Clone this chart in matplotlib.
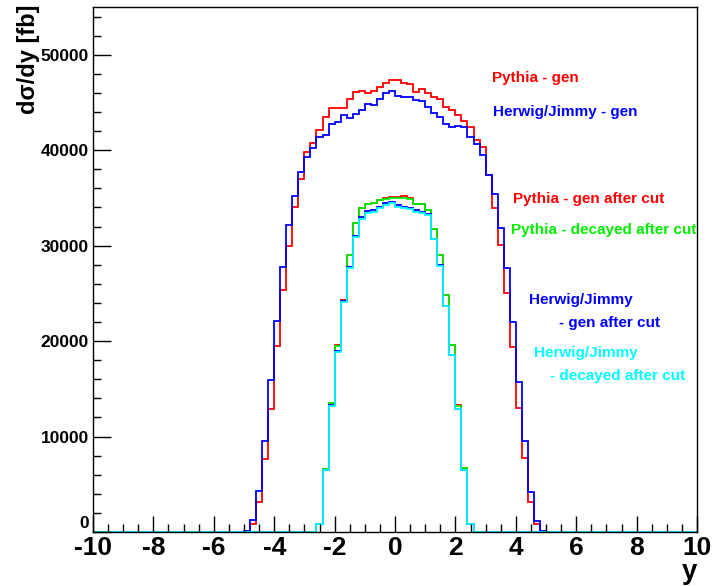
import numpy as np
import matplotlib
matplotlib.use("Agg")
import matplotlib.pyplot as plt
from matplotlib.ticker import MultipleLocator, FuncFormatter

plt.rcParams['font.family'] = ['Liberation Sans', 'DejaVu Sans']
plt.rcParams['font.weight'] = 'bold'
plt.rcParams['axes.unicode_minus'] = False

# 100 bins of width 0.2 between -10 and 10
edges = np.linspace(-10, 10, 101)

# generator level, bins from -5.0 to 5.0
gen_start = -5.0
pythia_gen = [50, 800, 3110, 7650, 12860, 19530, 25360, 29970, 34100, 36960,
              39860, 40730, 42130, 43460, 44400, 44470, 44400, 45340, 46070, 46250,
              45970, 46250, 46670, 47020, 47300, 47300, 47090, 46950, 46080, 46390,
              45970, 45550, 45340, 44570, 44230, 43700, 43070, 42480, 41080, 40310,
              37410, 33990, 30080, 25010, 19420, 12960, 7720, 3110, 840, 50]
herwig_gen = [140, 1225, 4300, 9570, 15930, 22150, 27800, 32170, 35250, 37730,
              39270, 40210, 41430, 41600, 42760, 43000, 43700, 43420, 43800, 44230,
              44820, 44750, 45340, 45970, 46250, 45700, 45620, 45550, 45270, 45100,
              44570, 43880, 43520, 42730, 42480, 42580, 42410, 41430, 40660, 39510,
              37410, 35390, 31820, 27700, 21980, 15750, 9540, 4230, 1150, 100]

# after cut, bins from -2.6 to 2.6
cut_start = -2.6
pythia_gen_cut = [850, 6620, 13500, 19560, 24260, 29050, 32380, 33950, 34370, 34480,
                  34820, 34950, 35080, 35120, 35180, 34960, 34360, 34360, 33770, 31780,
                  29050, 24860, 19620, 13280, 6680, 850]
pythia_dec_cut = [840, 6600, 13480, 19530, 24240, 29030, 32350, 33920, 34340, 34450,
                  34790, 34900, 35040, 35040, 35040, 34900, 34340, 34340, 33750, 31750,
                  29030, 24840, 19600, 13240, 6670, 840]
herwig_gen_cut = [810, 6520, 13260, 18950, 24150, 27780, 30980, 32950, 33580, 33750,
                  34080, 34420, 34600, 34250, 34050, 33950, 33700, 33520, 33300, 30720,
                  27920, 23720, 18580, 12920, 6520, 810]
herwig_dec_cut = [800, 6500, 13240, 18900, 24100, 27700, 30880, 32800, 33400, 33570,
                  33920, 34270, 34450, 34100, 33920, 33820, 33570, 33400, 33220, 30670,
                  27880, 23680, 18550, 12890, 6500, 800]


def full(vals, start):
    h = np.zeros(100)
    i0 = int(round((start + 10) / 0.2))
    h[i0:i0 + len(vals)] = vals
    return h


fig = plt.figure(figsize=(7.15, 5.86), dpi=100)
ax = fig.add_axes([93 / 715, 54 / 586, 604 / 715, 525 / 586])

hists = [
    (pythia_gen, gen_start, '#ff0000'),
    (herwig_gen, gen_start, '#0000ff'),
    (pythia_gen_cut, cut_start, '#ff0000'),
    (pythia_dec_cut, cut_start, '#00ee00'),
    (herwig_gen_cut, cut_start, '#0000ff'),
    (herwig_dec_cut, cut_start, '#00ffff'),
]
for vals, start, col in hists:
    ax.stairs(full(vals, start), edges, color=col, lw=1.3, clip_on=False)

ax.set_xlim(-10, 10)
ax.set_ylim(0, 55000)

ax.xaxis.set_major_locator(MultipleLocator(2))
ax.xaxis.set_minor_locator(MultipleLocator(0.5))
ax.yaxis.set_major_locator(MultipleLocator(10000))
ax.yaxis.set_minor_locator(MultipleLocator(2000))
# the "0" of the y axis is drawn by hand a bit higher, above the -10
ax.yaxis.set_major_formatter(FuncFormatter(lambda v, p: '' if v == 0 else '%d' % v))
ax.tick_params(axis='x', which='major', direction='in', length=11.5, width=1,
               labelsize=19, pad=3, top=False)
ax.tick_params(axis='x', which='minor', direction='in', length=5.8, width=1, top=False)
ax.tick_params(axis='y', which='major', direction='in', length=13, width=1,
               labelsize=12.5, pad=3, right=False)
ax.tick_params(axis='y', which='minor', direction='in', length=6, width=1, right=False)
for lab in ax.get_xticklabels() + ax.get_yticklabels():
    lab.set_fontweight('bold')
for s in ax.spines.values():
    s.set_linewidth(1)

W, H = 715, 586
fig.text(84 / W, 1 - 524 / H, '0', ha='center', va='center', fontsize=12.5,
         fontweight='bold')
fig.text(28 / W, 1 - 4 / H, 'dσ/dy [fb]', rotation=90, ha='center', va='top',
         fontsize=17, fontweight='bold')
fig.text(690 / W, 1 - 572 / H, 'y', ha='center', va='center', fontsize=20,
         fontweight='bold')

labels = [
    (492, 78, 'Pythia - gen', '#ff0000'),
    (493, 112, 'Herwig/Jimmy - gen', '#0000ff'),
    (513, 199, 'Pythia - gen after cut', '#ff0000'),
    (511, 230, 'Pythia - decayed after cut', '#00ee00'),
    (529, 300, 'Herwig/Jimmy', '#0000ff'),
    (559, 323, '- gen after cut', '#0000ff'),
    (534, 353, 'Herwig/Jimmy', '#00ffff'),
    (550, 376, '- decayed after cut', '#00ffff'),
]
for x, y, t, c in labels:
    fig.text(x / W, 1 - y / H, t, color=c, fontsize=11, fontweight='bold',
             ha='left', va='center')

fig.savefig('out.png', dpi=100)
